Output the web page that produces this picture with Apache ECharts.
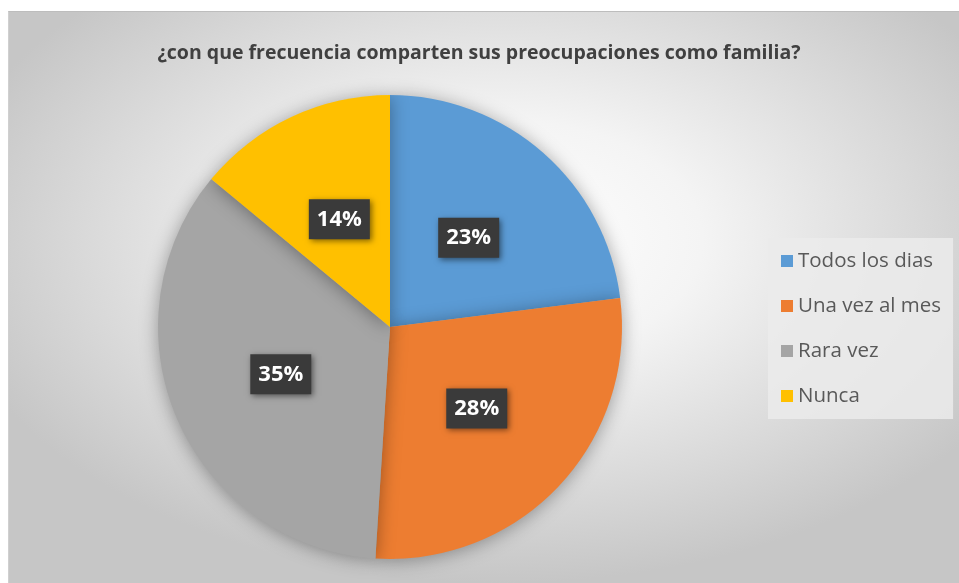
<!DOCTYPE html>
<html>
<head>
<meta charset="utf-8">
<script src="https://cdn.jsdelivr.net/npm/echarts@6/dist/echarts.min.js"></script>
<style>
html,body{margin:0;padding:0;background:#fff;width:959px;height:583px;overflow:hidden;}
#wrap{position:absolute;left:8px;top:11px;width:951px;height:572px;
background:radial-gradient(ellipse 60% 60% at 52% 40%, #ffffff 0%, #f4f4f4 35%, #d8d8d8 75%, #c6c6c6 100%);
border-top:1px solid #bdbdbd;border-left:1px solid #d0d0d0;box-sizing:border-box;}
#chart{width:951px;height:572px;}
</style>
</head>
<body>
<div id="wrap"><div id="chart"></div></div>
<script>
const titleText = '¿con que frecuencia comparten sus preocupaciones como familia?';
const categories = ['Todos los dias', 'Una vez al mes', 'Rara vez', 'Nunca'];
const values = [23, 28, 35, 14];
const colors = ['#5B9BD5', '#ED7D31', '#A5A5A5', '#FFC000'];

const chart = echarts.init(document.getElementById('chart'), null, {renderer: 'canvas'});
const data = categories.map((c, i) => ({name: c, value: values[i], itemStyle: {color: colors[i]}}));
chart.setOption({
  animation: false,
  title: {
    text: titleText,
    left: 465, top: 26, textAlign: 'center',
    textStyle: {fontFamily: 'Open Sans', fontWeight: 'bold', fontSize: 19.5, color: '#404040'}
  },
  legend: {
    orient: 'vertical',
    left: 759, top: 226,
    backgroundColor: 'rgba(235,235,235,0.85)',
    padding: [12, 12, 12, 13],
    itemGap: 23,
    itemWidth: 12, itemHeight: 12,
    icon: 'rect',
    data: categories,
    textStyle: {fontFamily: 'Open Sans', fontSize: 20.5, lineHeight: 22, color: '#595959'}
  },
  series: [{
    type: 'pie',
    center: [381, 315],
    radius: [0, 232],
    startAngle: 90,
    clockwise: true,
    data: data,
    itemStyle: {shadowBlur: 18, shadowColor: 'rgba(0,0,0,0.35)', shadowOffsetX: 0, shadowOffsetY: 2},
    label: {
      show: true,
      position: 'inside',
      formatter: '{d}%',
      fontFamily: 'Open Sans', fontWeight: 'bold', fontSize: 22, color: '#ffffff',
      backgroundColor: '#3a3a3a',
      padding: [10, 8, 8, 8],
      shadowBlur: 6, shadowColor: 'rgba(0,0,0,0.5)', shadowOffsetX: 2, shadowOffsetY: 2
    },
    labelLine: {show: false},
    emphasis: {disabled: true}
  }]
});
</script>
</body>
</html>
